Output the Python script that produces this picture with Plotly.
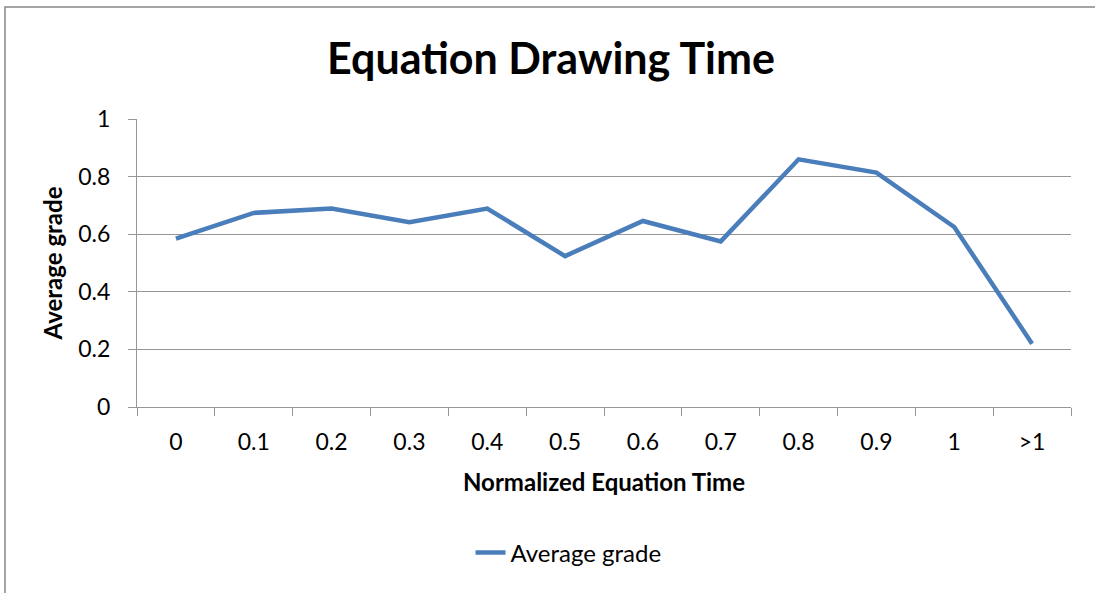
import plotly.graph_objects as go

categories = ["0", "0.1", "0.2", "0.3", "0.4", "0.5", "0.6", "0.7", "0.8", "0.9", "1", ">1"]
avg_grade = [0.585, 0.674, 0.689, 0.642, 0.689, 0.524, 0.646, 0.575, 0.860, 0.814, 0.625, 0.220]
y_ticks = [0, 0.2, 0.4, 0.6, 0.8, 1]
y_tick_labels = ["0", "0.2", "0.4", "0.6", "0.8", "1"]

FONT = "Lato"
GRID = "#969696"

fig = go.Figure()
fig.add_trace(go.Scatter(
    x=categories, y=avg_grade, mode="lines", name="Average grade",
    line=dict(color="#4a7ebb", width=4.5),
))

fig.update_layout(
    width=1095, height=593,
    margin=dict(l=137, r=24, t=119, b=186),
    paper_bgcolor="white", plot_bgcolor="white",
    font=dict(family=FONT, size=23, color="#000000"),
    title=dict(text="<b>Equation Drawing Time</b>", font=dict(family=FONT, size=43, color="#000000"),
               x=551/1095, xanchor="center", xref="container",
               y=1 - 59/593, yanchor="middle", yref="container"),
    showlegend=True,
    legend=dict(orientation="h", x=0.462, xanchor="center", y=-0.507, yanchor="middle",
                font=dict(family=FONT, size=24), bgcolor="rgba(0,0,0,0)"),
    xaxis=dict(
        type="category", range=[-0.5, 11.5], tickson="boundaries",
        ticks="outside", ticklen=8, tickcolor=GRID, tickwidth=1,
        showline=True, linecolor=GRID, linewidth=1,
        showgrid=False, ticklabelstandoff=14,
        tickfont=dict(family=FONT, size=23),
        title=dict(text="<b>Normalized Equation Time</b>", font=dict(family=FONT, size=24), standoff=20),
    ),
    yaxis=dict(
        range=[0, 1], tickvals=y_ticks, ticktext=y_tick_labels,
        ticks="outside", ticklen=8, tickcolor=GRID, tickwidth=1,
        showline=True, linecolor=GRID, linewidth=1,
        showgrid=True, gridcolor=GRID, gridwidth=1, zeroline=False,
        ticklabelstandoff=13,
        tickfont=dict(family=FONT, size=23),
        title=dict(text="<b>Average grade</b>", font=dict(family=FONT, size=24), standoff=8),
    ),
    shapes=[dict(type="rect", xref="paper", yref="paper",
                 x0=(5 - 137) / 934, x1=1.2, y0=-0.8, y1=(407 - 7) / 288,
                 line=dict(color="#868686", width=1.5), layer="below")],
)

fig.write_html("out.html", config={"displayModeBar": False},
               post_script="document.body.style.margin='0';")
